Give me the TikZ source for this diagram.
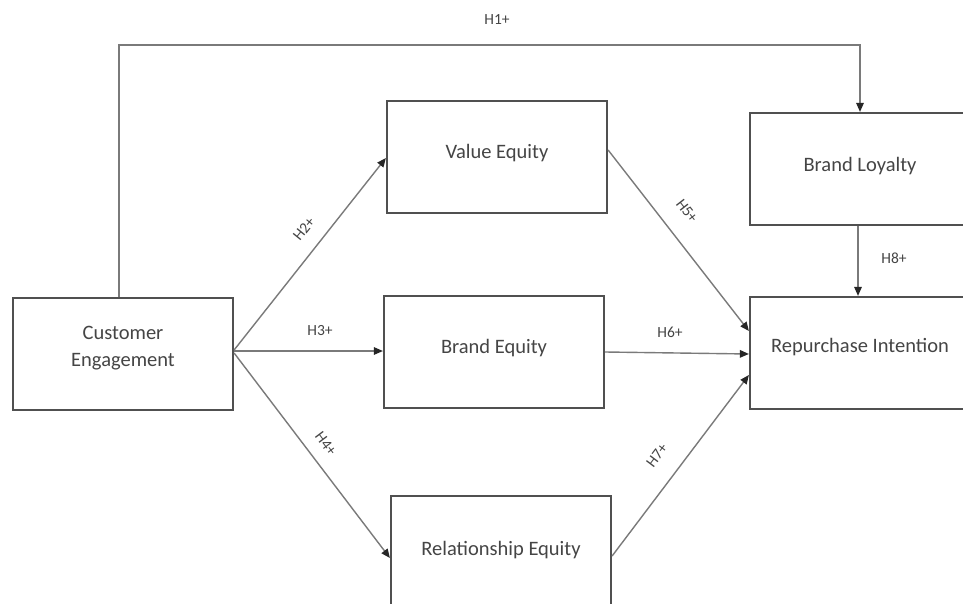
\documentclass[tikz,border=0pt]{standalone}
\usepackage{fontspec}
\setmainfont{Carlito}
\usetikzlibrary{arrows.meta}
\definecolor{boxc}{HTML}{505050}
\definecolor{linec}{HTML}{7A7A7A}
\definecolor{txtc}{HTML}{454545}
\begin{document}
\begin{tikzpicture}[x=1pt,y=-1pt,
  box/.style={draw=boxc,line width=2.2pt,minimum width=220pt,minimum height=112pt,
    inner sep=0pt,text=txtc,align=center,font=\fontsize{20.5}{27}\selectfont},
  conn/.style={draw=linec,line width=1.4pt,-{Triangle[length=9pt,width=7.5pt,fill=black!85,color=black!85]}},
  lab/.style={text=txtc,font=\fontsize{15.5}{18}\selectfont,inner sep=0pt}]
\useasboundingbox[fill=white] (0,0) rectangle (963,604);
\node[box,text depth=16pt] (CE) at (123,354) {Customer\\Engagement};
\node[box] (VE) at (497,157) {\raisebox{11pt}{Value Equity}};
\node[box] (BE) at (494,352) {\raisebox{12pt}{Brand Equity}};
\node[box] (RE) at (501,552) {\raisebox{8pt}{Relationship Equity}};
\node[box] (BL) at (860,169) {\raisebox{10pt}{Brand Loyalty}};
\node[box] (RI) at (860,353) {\raisebox{16pt}{Repurchase Intention}};
\coordinate (t1) at (119,45);
\coordinate (t2) at (860,45);
% connectors
\draw[conn] ([xshift=-4pt]CE.north) -- (t1) -- (t2) -- (BL.north);
\draw[conn] ([yshift=4pt]CE.east) -- ([yshift=-1pt]VE.west);
\draw[conn] ([yshift=3pt]CE.east) -- ([yshift=1pt]BE.west);
\draw[conn] ([yshift=1pt]CE.east) -- ([yshift=-6pt]RE.west);
\draw[conn] ([yshift=7pt]VE.east) -- ([yshift=22pt]RI.west);
\draw[conn] (BE.east) -- ([yshift=-1pt]RI.west);
\draw[conn] ([yshift=-4pt]RE.east) -- ([yshift=-22pt]RI.west);
\draw[conn] ([xshift=-2pt]BL.south) -- ([xshift=-2pt]RI.north);
% labels
\node[lab] (l1) at (497,20) {H1+};
\node[lab,rotate=51] (l2) at (304,229) {H2+};
\node[lab] (l3) at (320,331) {H3+};
\node[lab,rotate=-53] (l4) at (326,444) {H4+};
\node[lab,rotate=-52] (l5) at (687,211) {H5+};
\node[lab] (l6) at (670,332) {H6+};
\node[lab,rotate=53] (l7) at (657,455) {H7+};
\node[lab] (l8) at (894,258) {H8+};
\end{tikzpicture}
\end{document}
